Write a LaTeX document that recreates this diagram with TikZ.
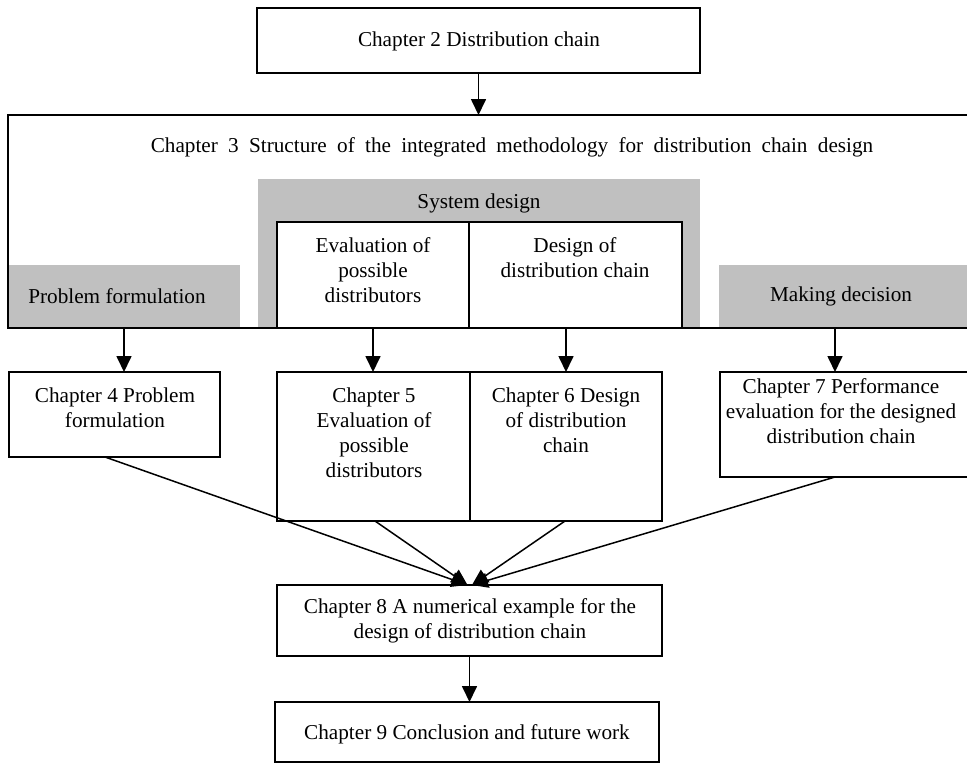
\documentclass[tikz,border=0pt]{standalone}
\usepackage{fontspec}
\setmainfont{Liberation Serif}
\usetikzlibrary{arrows.meta}
\definecolor{panelgray}{HTML}{C0C0C0}
\begin{document}
\begin{tikzpicture}[x=1pt,y=-1pt,
  box/.style={draw,line width=1.8pt,fill=white,inner sep=0pt,outer sep=0pt},
  panel/.style={fill=panelgray,inner sep=0pt,outer sep=0pt},
  frame/.style={draw,line width=1.8pt,inner sep=0pt,outer sep=0pt},
  txt/.style={align=center,inner sep=0pt,font=\fontsize{21.2}{25}\selectfont},
  arr/.style={line width=1.7pt,-{Triangle[length=16pt,width=15pt]}},
  conv/.style={line width=1.5pt,-{Triangle[length=16pt,width=15pt]}}]
\clip (0,0) rectangle (967,764);
\fill[white] (0,0) rectangle (967,764);

% Chapter 2
\node[box,minimum width=443pt,minimum height=65pt] (ch2) at (478.5,40.5) {};
\node[txt] (t2) at (479,41) {Chapter 2 Distribution chain};

% Chapter 3 frame with its three phases
\node[panel,minimum width=442pt,minimum height=149pt] (sys) at (479,253.5) {};
\node[panel,minimum width=232pt,minimum height=63pt] (prob) at (124,296.5) {};
\node[panel,minimum width=281pt,minimum height=63pt] (mak) at (859.5,296.5) {};
\node[frame,minimum width=1008pt,minimum height=213pt] (big) at (512,221.5) {};
\node[txt] (t3) at (512,147) {\spaceskip=10.3pt Chapter 3 Structure of the integrated methodology for distribution chain design};
\node[txt] (tsys) at (479,203) {System design};
\node[txt] (tprob) at (117,296) {Problem formulation};
\node[txt] (tmak) at (841,296) {Making decision};
\node[box,minimum width=192pt,minimum height=106pt] (evin) at (373,275) {};
\node[box,minimum width=213pt,minimum height=106pt] (dsin) at (575.5,275) {};
\node[txt] (tevin) at (373,270) {Evaluation of\\possible\\distributors};
\node[txt] (tdsin) at (575,257.5) {Design of\\distribution chain};

% Chapters 4 to 7
\node[box,minimum width=211pt,minimum height=85pt] (ch4) at (114.5,414.5) {};
\node[box,minimum width=193pt,minimum height=149pt] (ch5) at (373.5,446.5) {};
\node[box,minimum width=192pt,minimum height=149pt] (ch6) at (566,446.5) {};
\node[box,minimum width=280pt,minimum height=105pt] (ch7) at (860,424.5) {};
\node[txt] (t4) at (115,408) {Chapter 4 Problem\\formulation};
\node[txt] (t5) at (374,432.5) {Chapter 5\\Evaluation of\\possible\\distributors};
\node[txt] (t6) at (566,420) {Chapter 6 Design\\of distribution\\chain};
\node[txt] (t7) at (841,411) {Chapter 7 Performance\\evaluation for the designed\\distribution chain};

% Chapters 8 and 9
\node[box,minimum width=385pt,minimum height=71pt] (ch8) at (469.5,620.5) {};
\node[box,minimum width=384pt,minimum height=60pt] (ch9) at (467,732) {};
\node[txt] (t8) at (470,620.5) {Chapter 8 A numerical example for the\\design of distribution chain};
\node[txt] (t9) at (467,734) {Chapter 9 Conclusion and future work};

% vertical arrows
\coordinate (a4) at (124,328);
\coordinate (a7) at (835,328);
\draw[arr] (ch2.south) -- (ch2.south |- big.north);
\draw[arr] (a4) -- (a4 |- ch4.north);
\draw[arr] (evin.south) -- (evin.south |- ch5.north);
\draw[arr] (ch6.north |- dsin.south) -- (ch6.north);
\draw[arr] (a7) -- (a7 |- ch7.north);
\draw[arr] (ch8.south) -- (ch8.south |- ch9.north);

% converging connectors into Chapter 8
\coordinate (m1) at ([xshift=-2pt]ch8.north);
\coordinate (m2) at ([xshift=2.5pt]ch8.north);
\draw[conv] ([xshift=-9.5pt]ch4.south) -- (m1);
\draw[conv] ([xshift=1.5pt]ch5.south) -- (m1);
\draw[conv] ([xshift=-1pt]ch6.south) -- (m2);
\draw[conv] ([xshift=115pt]ch7.south west) -- (m2);
\end{tikzpicture}
\end{document}
